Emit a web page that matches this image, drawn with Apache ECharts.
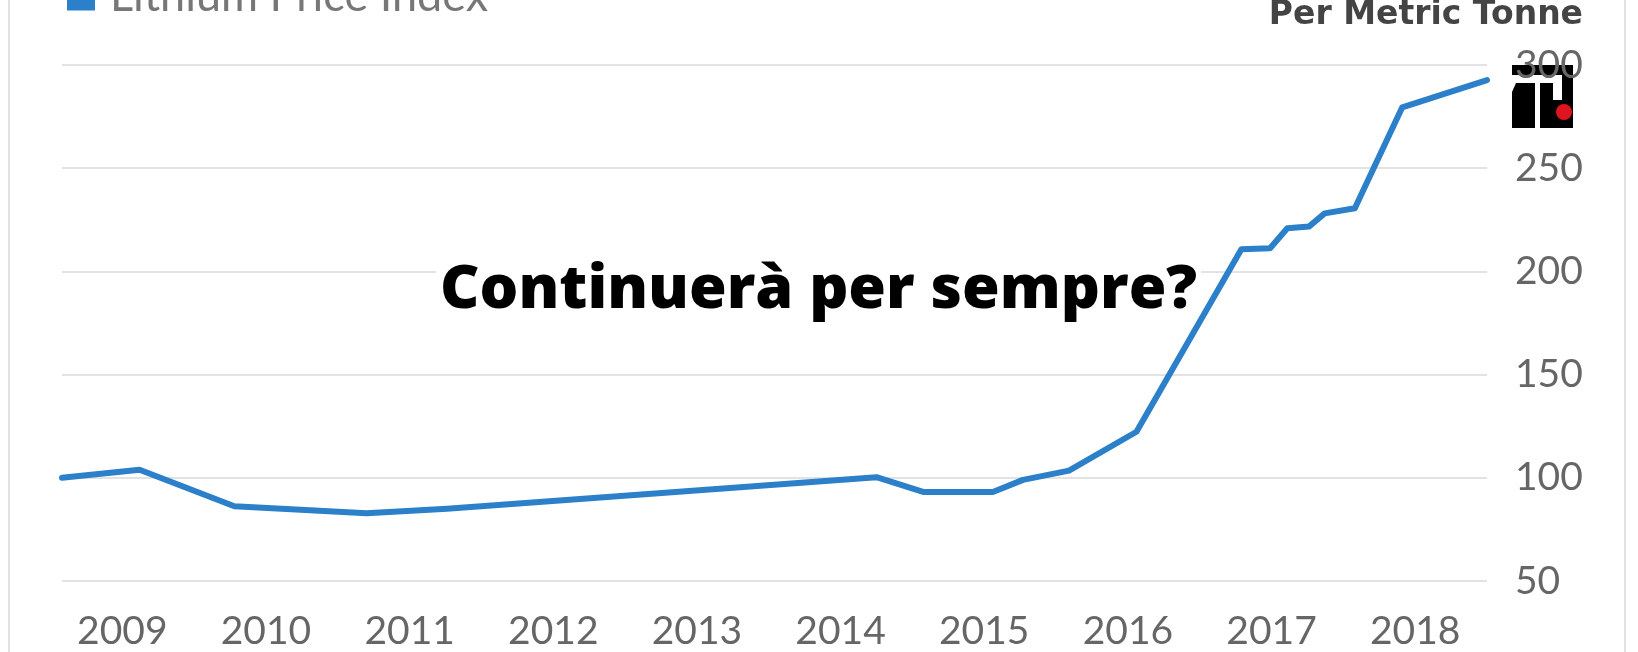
<!DOCTYPE html>
<html>
<head>
<meta charset="utf-8">
<script src="https://cdn.jsdelivr.net/npm/echarts@6/dist/echarts.min.js"></script>
<style>
html,body{margin:0;padding:0;background:#fff;}
#chart{width:1638px;height:652px;}
</style>
</head>
<body>
<div id="chart"></div>
<script>
// Time positions (decimal years) and index values
const dates = [2008.58, 2009.12, 2009.78, 2010.70, 2011.26, 2014.25, 2014.58, 2015.06, 2015.27, 2015.59, 2016.06, 2016.79, 2016.99, 2017.11, 2017.26, 2017.37, 2017.58, 2017.91, 2018.50];
const values = [100.0, 103.9, 86.2, 82.8, 85.0, 100.3, 93.1, 93.1, 99.0, 103.5, 122.3, 210.7, 211.2, 220.9, 221.7, 228.1, 230.6, 279.5, 292.7];
const yearLabels = [2009, 2010, 2011, 2012, 2013, 2014, 2015, 2016, 2017, 2018];
const yTicks = [50, 100, 150, 200, 250, 300];
const seriesName = 'Lithium Price Index';
const unitLabel = 'Per Metric Tonne';
const headline = 'Continuerà per sempre?';

const blue = '#2b80c9';
const chart = echarts.init(document.getElementById('chart'));
chart.setOption({
  animation: false,
  backgroundColor: '#fff',
  grid: { left: 62, right: 151, top: 65, bottom: 71 },
  legend: {
    data: [seriesName],
    left: 62, top: -31,
    icon: 'rect', itemWidth: 28, itemHeight: 28,
    itemStyle: { color: blue },
    textStyle: { fontSize: 45, color: '#777', fontFamily: 'Lato', fontWeight: 'normal', padding: [0, 0, 0, 10] }
  },
  xAxis: {
    type: 'value',
    min: dates[0], max: dates[dates.length - 1],
    axisLine: { show: false }, axisTick: { show: false }, splitLine: { show: false },
    axisLabel: {
      customValues: yearLabels,
      formatter: v => String(Math.round(v)),
      fontSize: 39, color: '#666', fontFamily: 'Lato', fontWeight: 'normal', margin: 31
    }
  },
  yAxis: {
    type: 'value', position: 'right',
    min: yTicks[0], max: yTicks[yTicks.length - 1], interval: 50,
    axisLine: { show: false }, axisTick: { show: false },
    splitLine: { lineStyle: { color: '#dadada', width: 1.5 } },
    axisLabel: { margin: 28, fontSize: 39, color: '#666', fontFamily: 'Lato', fontWeight: 'normal', align: 'left', padding: [10, 0, 0, 0] }
  },
  series: [{
    name: seriesName,
    type: 'line',
    data: dates.map((d, i) => [d, values[i]]),
    showSymbol: false,
    lineStyle: { color: blue, width: 6, cap: 'round', join: 'round' },
    itemStyle: { color: blue },
    z: 5
  }],
  graphic: [
    { type: 'line', shape: { x1: 9, y1: 0, x2: 9, y2: 652 }, style: { stroke: '#e2e2e2', lineWidth: 2 }, z: 1 },
    { type: 'line', shape: { x1: 1625, y1: 0, x2: 1625, y2: 652 }, style: { stroke: '#e2e2e2', lineWidth: 2 }, z: 1 },
    { type: 'text', x: 1583, y: 15, z: 10,
      style: { text: unitLabel, align: 'right', verticalAlign: 'middle', font: 'bold 33px "DejaVu Sans"', fill: '#444' } },
    { type: 'text', x: 436, y: 291, z: 3,
      style: { text: headline, verticalAlign: 'middle', font: '800 61px "Open Sans"', fill: '#000', backgroundColor: '#fff', padding: [0, 4] } },
    { type: 'group', z: 20, children: [
      { type: 'rect', shape: { x: 1512, y: 65, width: 61, height: 10 }, style: { fill: '#000' } },
      { type: 'polygon', shape: { points: [[1516, 83], [1535, 83], [1535, 128], [1512, 128], [1512, 92]] }, style: { fill: '#000' } },
      { type: 'rect', shape: { x: 1540, y: 83, width: 13, height: 45 }, style: { fill: '#000' } },
      { type: 'rect', shape: { x: 1562, y: 65, width: 11, height: 63 }, style: { fill: '#000' } },
      { type: 'rect', shape: { x: 1552, y: 100, width: 11, height: 28 }, style: { fill: '#000' } },
      { type: 'circle', shape: { cx: 1564, cy: 112, r: 8 }, style: { fill: '#e0141e' } }
    ] }
  ]
});
</script>
</body>
</html>
